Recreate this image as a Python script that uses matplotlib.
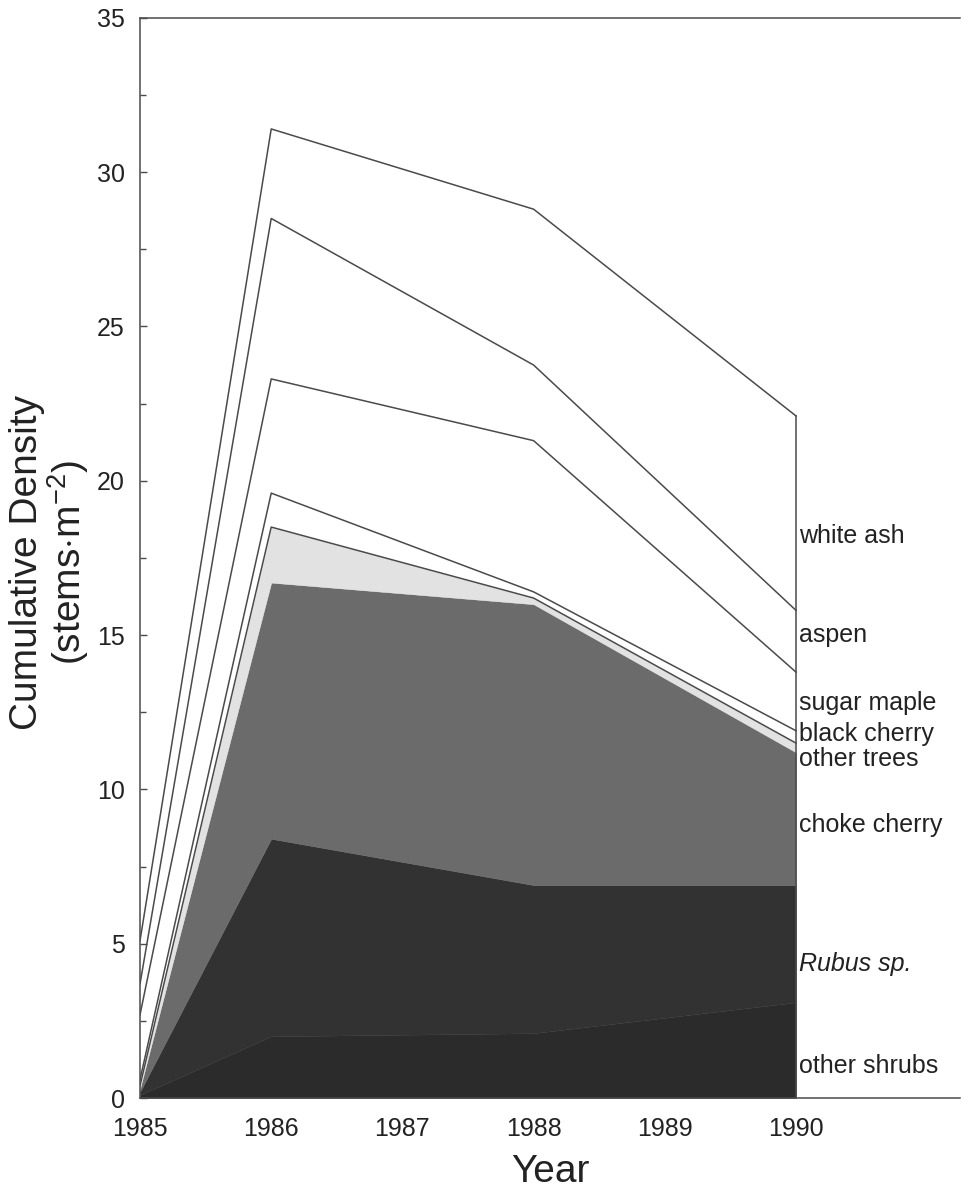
import numpy as np
import matplotlib.pyplot as plt
from matplotlib.ticker import MultipleLocator

plt.rcParams['font.family'] = ['Liberation Sans', 'DejaVu Sans']
plt.rcParams['mathtext.fontset'] = 'custom'
plt.rcParams['mathtext.rm'] = 'Liberation Sans'
plt.rcParams['mathtext.it'] = 'Liberation Sans:italic'

# Data (stems per m^2 for each group, stacked bottom to top)
years = [1985, 1986, 1988, 1990]
other_shrubs = [0.1, 2.0, 2.1, 3.1]
rubus = [0.1, 6.4, 4.8, 3.8]
choke_cherry = [0.1, 8.3, 9.1, 4.3]
other_trees = [0.1, 1.8, 0.2, 0.3]
black_cherry = [0.2, 1.1, 0.2, 0.4]
sugar_maple = [2.1, 3.7, 4.9, 1.9]
aspen = [1.0, 5.2, 2.45, 2.0]
white_ash = [1.4, 2.9, 5.05, 6.3]

layers = [other_shrubs, rubus, choke_cherry, other_trees,
          black_cherry, sugar_maple, aspen, white_ash]
names = ['other shrubs', 'Rubus sp.', 'choke cherry', 'other trees',
         'black cherry', 'sugar maple', 'aspen', 'white ash']
fills = ['#2b2b2b', '#323232', '#6b6b6b', '#e2e2e2',
         'white', 'white', 'white', 'white']
label_y = [1.05, 4.35, 8.85, 11.0, 11.8, 12.8, 15.0, 18.2]

fig = plt.figure(figsize=(9.63, 11.9), dpi=100)
ax = fig.add_axes([0.1454, 0.0773, 0.9969 - 0.1454, 0.985 - 0.0773])

edge = '#4a4a4a'
cum = np.cumsum(np.array(layers), axis=0)
bottom = np.zeros(len(years))
for i, top in enumerate(cum):
    ax.fill_between(years, bottom, top, facecolor=fills[i],
                    edgecolor=fills[i], lw=0.3, zorder=1)
    if i >= 3:
        ax.plot(years, top, color=edge, lw=1.1, zorder=3)
    bottom = top
ax.plot([years[-1], years[-1]], [0, cum[-1][-1]], color=edge, lw=1.1, zorder=3)

for name, yl in zip(names, label_y):
    style = 'italic' if name.startswith('Rubus') else 'normal'
    ax.text(years[-1] + 0.02, yl, name, fontsize=18, color='#222222',
            ha='left', va='center', style=style, clip_on=False)

ax.set_xlim(1985, 1991.25)
ax.set_ylim(0, 35)
ax.set_xticks(range(1985, 1991))
ax.yaxis.set_major_locator(MultipleLocator(5))
ax.yaxis.set_minor_locator(MultipleLocator(2.5))
ax.tick_params(axis='y', which='major', direction='in', length=5, width=1,
               color=edge, labelsize=18, pad=11, labelcolor='#222222')
ax.tick_params(axis='y', which='minor', direction='in', length=4, width=1,
               color=edge)
ax.tick_params(axis='x', length=0, labelsize=18, pad=14, labelcolor='#222222')

for s in ['left', 'bottom', 'top']:
    ax.spines[s].set_color(edge)
    ax.spines[s].set_linewidth(1.1)
ax.spines['right'].set_visible(False)

ax.set_xlabel('Year', fontsize=28, color='#222222', labelpad=9)
fig.text(0.052, 0.527, 'Cumulative Density\n(stems$\\cdot$m$^{-2}$)',
         rotation=90, ha='center', va='center', fontsize=28,
         color='#222222', linespacing=1.0, multialignment='center')

fig.savefig('out.png', dpi=100)
